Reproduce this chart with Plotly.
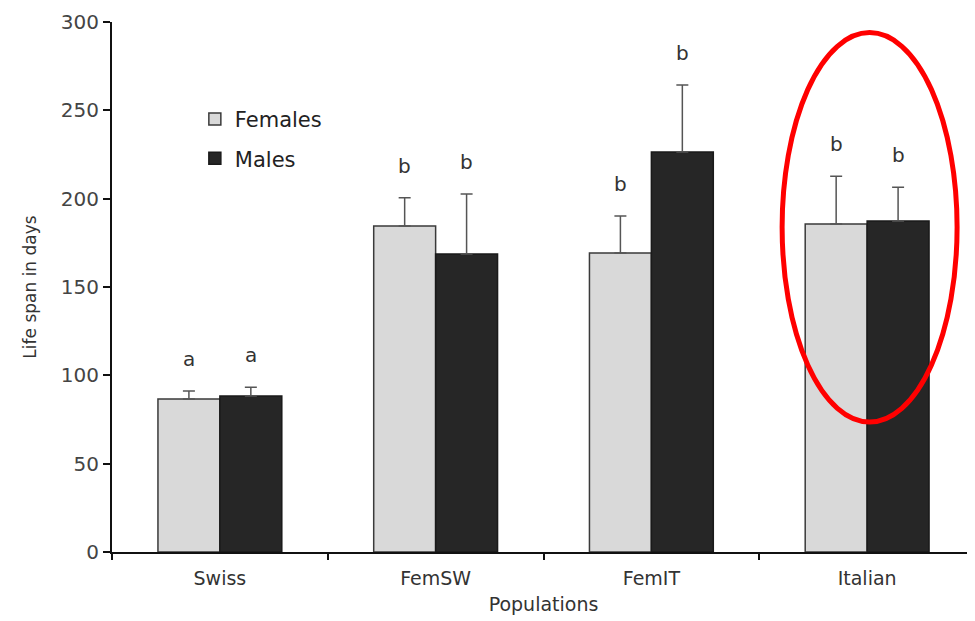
import plotly.graph_objects as go

populations = ["Swiss", "FemSW", "FemIT", "Italian"]
females = [86.6, 184.5, 169.2, 185.7]
females_err = [4.5, 16, 21, 27]
males = [88.3, 168.7, 226.4, 187.4]
males_err = [5, 34, 38, 19]
female_letters = ["a", "b", "b", "b"]
male_letters = ["a", "b", "b", "b"]
y_ticks = [0, 50, 100, 150, 200, 250, 300]

FONT = "DejaVu Sans, Arial, sans-serif"

fig = go.Figure()
fig.add_trace(go.Bar(
    name="Females", x=populations, y=females, legendgroup="f",
    marker=dict(color="#d9d9d9", line=dict(color="#3a3a3a", width=1.5)),
    error_y=dict(type="data", array=females_err, arrayminus=[0]*4, symmetric=False,
                 color="#555555", thickness=1.5, width=6),
))
fig.add_trace(go.Bar(
    name="Males", x=populations, y=males, legendgroup="m",
    marker=dict(color="#262626", line=dict(color="#1a1a1a", width=1.5)),
    error_y=dict(type="data", array=males_err, arrayminus=[0]*4, symmetric=False,
                 color="#555555", thickness=1.5, width=6),
))

# significance letters
for i, p in enumerate(populations):
    fig.add_annotation(x=i, y=females[i] + females_err[i], text=female_letters[i],
                       xref="x", yref="y", xshift=-31, yshift=32, showarrow=False,
                       font=dict(family=FONT, size=20, color="#333"))
    fig.add_annotation(x=i, y=males[i] + males_err[i], text=male_letters[i],
                       xref="x", yref="y", xshift=31, yshift=32, showarrow=False,
                       font=dict(family=FONT, size=20, color="#333"))

# red ellipse around Italian
fig.add_shape(type="circle", xref="x", yref="y", x0=2.606, x1=3.417, y0=73.6, y1=294,
              line=dict(color="#ff0000", width=5))

fig.update_layout(
    width=967, height=613,
    margin=dict(l=104, r=0, t=14, b=69),
    paper_bgcolor="white", plot_bgcolor="white",
    barmode="group", bargap=0.426, bargroupgap=0,
    font=dict(family=FONT, color="#333"),
    legend=dict(x=0.096, y=0.855, xanchor="left", yanchor="top",
                font=dict(family=FONT, size=21, color="#222"),
                bgcolor="rgba(0,0,0,0)", tracegroupgap=9),
    showlegend=True,
)
fig.update_xaxes(
    showline=True, linecolor="#111", linewidth=2,
    ticks="outside", tickson="boundaries", ticklen=6, tickcolor="#111", tickwidth=1.5,
    ticklabelstandoff=8,
    tickfont=dict(family=FONT, size=19, color="#333"),
    title=dict(text="Populations", font=dict(family=FONT, size=19, color="#333"), standoff=10),
    range=[-0.5, 3.5], showgrid=False, zeroline=False,
)
fig.update_yaxes(
    showline=True, linecolor="#111", linewidth=2,
    ticks="outside", ticklen=7, tickcolor="#111", tickwidth=1.5,
    tickvals=y_ticks, range=[0, 300],
    tickfont=dict(family=FONT, size=20, color="#444"),
    title=dict(text="Life span in days", font=dict(family=FONT, size=17, color="#333"), standoff=20),
    showgrid=False, zeroline=False,
)

fig.write_html("out.html")
